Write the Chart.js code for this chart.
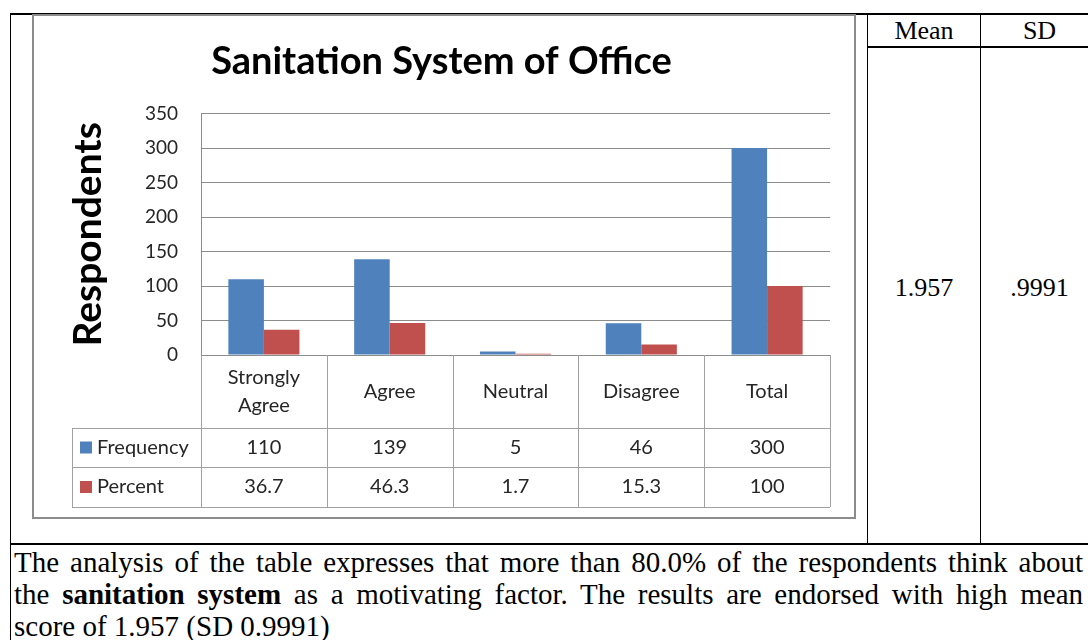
<!DOCTYPE html>
<html lang="en">
<head>
    <meta charset="UTF-8">
    <title>Sanitation System of Office</title>
    <style>
        body {
            margin: 0;
            width: 1088px;
            height: 640px;
            overflow: hidden;
            background: #fff;
            position: relative;
            font-family: "Liberation Serif", "Times New Roman", serif;
            color: #000;
        }

        .line {
            position: absolute;
            background: #000;
        }

        .frame {
            position: absolute;
            left: 32px;
            top: 14px;
            width: 824px;
            height: 505px;
            border: 2px solid #8c8c8c;
            box-sizing: border-box;
        }

        #chartBox {
            position: absolute;
            left: 33px;
            top: 15px;
            width: 822px;
            height: 503px;
        }

        .cell {
            position: absolute;
            font-size: 26px;
            line-height: 30px;
            text-align: center;
        }

        .para {
            position: absolute;
            left: 14px;
            top: 546px;
            width: 1069px;
            font-size: 29px;
            line-height: 32px;
        }

        .para div {
            text-align: justify;
            text-align-last: justify;
            white-space: nowrap;
        }

        .para div.last {
            text-align-last: left;
        }
    </style>
</head>

<body>
    <!-- document table lines -->
    <div class="line" style="left:10px; top:13px; width:1078px; height:2px;"></div>
    <div class="line" style="left:10px; top:13px; width:1px; height:627px;"></div>
    <div class="line" style="left:867px; top:13px; width:1px; height:531px;"></div>
    <div class="line" style="left:980px; top:13px; width:1px; height:531px;"></div>
    <div class="line" style="left:867px; top:46px; width:221px; height:2px;"></div>
    <div class="line" style="left:10px; top:543px; width:1078px; height:2px;"></div>

    <div class="cell" style="left:868px; top:16px; width:112px;">Mean</div>
    <div class="cell" style="left:981px; top:16px; width:117px;">SD</div>
    <div class="cell" style="left:868px; top:273px; width:112px;">1.957</div>
    <div class="cell" style="left:981px; top:273px; width:117px;">.9991</div>

    <div class="frame"></div>
    <div id="chartBox"><canvas id="sanitationChart" width="822" height="503"></canvas></div>

    <div class="para">
        <div>The analysis of the table expresses that more than 80.0% of the respondents think about</div>
        <div>the <b>sanitation system</b> as a motivating factor. The results are endorsed with high mean</div>
        <div class="last">score of 1.957 (SD 0.9991)</div>
    </div>

    <script src="https://cdn.jsdelivr.net/npm/chart.js"></script>
    <script>
        // chart data
        const categories = [["Strongly", "Agree"], "Agree", "Neutral", "Disagree", "Total"];
        const frequency = [110, 139, 5, 46, 300];
        const percent = [36.7, 46.3, 1.7, 15.3, 100];
        const seriesNames = ["Frequency", "Percent"];
        const seriesColors = ["#4F81BD", "#C0504D"];
        const yTicks = [0, 50, 100, 150, 200, 250, 300, 350];

        const tableFont = "20px Lato";
        const tableText = "#262626";
        const tableLine = "#a0a0a0";

        // draws the data table under the plot, using the x scale's categories
        const dataTable = {
            id: "dataTable",
            afterDraw(chart) {
                const ctx = chart.ctx;
                const area = chart.chartArea;
                const n = categories.length;
                const colW = area.width / n;
                const y0 = area.bottom;
                const y1 = y0 + 73;
                const y2 = y1 + 39;
                const y3 = y2 + 40;
                const legendLeft = 39;

                ctx.save();
                ctx.strokeStyle = tableLine;
                ctx.lineWidth = 1;
                ctx.beginPath();
                [y1, y2, y3].forEach(y => {
                    ctx.moveTo(legendLeft, Math.round(y) + 0.5);
                    ctx.lineTo(area.right, Math.round(y) + 0.5);
                });
                for (let i = 0; i <= n; i++) {
                    const x = Math.round(area.left + i * colW) + 0.5;
                    ctx.moveTo(x, y0);
                    ctx.lineTo(x, y3);
                }
                ctx.moveTo(legendLeft + 0.5, y1);
                ctx.lineTo(legendLeft + 0.5, y3);
                ctx.stroke();

                ctx.font = tableFont;
                ctx.fillStyle = tableText;
                ctx.textAlign = "center";
                ctx.textBaseline = "middle";
                const xs = chart.scales.x;
                categories.forEach((c, i) => {
                    const cx = xs.getPixelForValue(i);
                    const lines = Array.isArray(c) ? c : [c];
                    const mid = (y0 + y1) / 2;
                    lines.forEach((t, k) => {
                        ctx.fillText(t, cx, mid + (k - (lines.length - 1) / 2) * 28);
                    });
                    ctx.fillText(String(frequency[i]), cx, (y1 + y2) / 2);
                    ctx.fillText(String(percent[i]), cx, (y2 + y3) / 2);
                });

                // legend keys
                ctx.textAlign = "left";
                const rows = [(y1 + y2) / 2, (y2 + y3) / 2];
                rows.forEach((ry, k) => {
                    ctx.fillStyle = seriesColors[k];
                    ctx.fillRect(legendLeft + 8, ry - 6, 12, 12);
                    ctx.fillStyle = tableText;
                    ctx.fillText(seriesNames[k], legendLeft + 25, ry);
                });
                ctx.restore();
            }
        };

        new Chart(document.getElementById("sanitationChart"), {
            type: "bar",
            data: {
                labels: categories,
                datasets: [
                    {
                        label: seriesNames[0],
                        data: frequency,
                        backgroundColor: seriesColors[0],
                        categoryPercentage: 0.565,
                        barPercentage: 1
                    },
                    {
                        label: seriesNames[1],
                        data: percent,
                        backgroundColor: seriesColors[1],
                        categoryPercentage: 0.565,
                        barPercentage: 1
                    }
                ]
            },
            options: {
                responsive: false,
                animation: false,
                layout: {
                    padding: { left: 20, right: 25, top: 0, bottom: 163 }
                },
                plugins: {
                    legend: { display: false },
                    tooltip: { enabled: false },
                    title: {
                        display: true,
                        text: "Sanitation System of Office",
                        color: "#000",
                        font: { family: "Lato", size: 38, weight: "bold" },
                        padding: { top: 24, bottom: 29 }
                    }
                },
                scales: {
                    x: {
                        display: false
                    },
                    y: {
                        min: 0,
                        max: 350,
                        afterBuildTicks: s => { s.ticks = yTicks.map(v => ({ value: v })); },
                        afterFit: s => { s.width = 148; },
                        ticks: {
                            font: { family: "Lato", size: 19 },
                            color: tableText,
                            padding: 23
                        },
                        grid: {
                            color: "#8c8c8c",
                            drawTicks: false
                        },
                        border: { color: "#8c8c8c" },
                        title: {
                            display: true,
                            text: "Respondents",
                            color: "#000",
                            font: { family: "Lato", size: 39, weight: "bold" },
                            padding: { top: 12, bottom: 0 }
                        }
                    }
                }
            },
            plugins: [dataTable]
        });
    </script>
</body>

</html>
